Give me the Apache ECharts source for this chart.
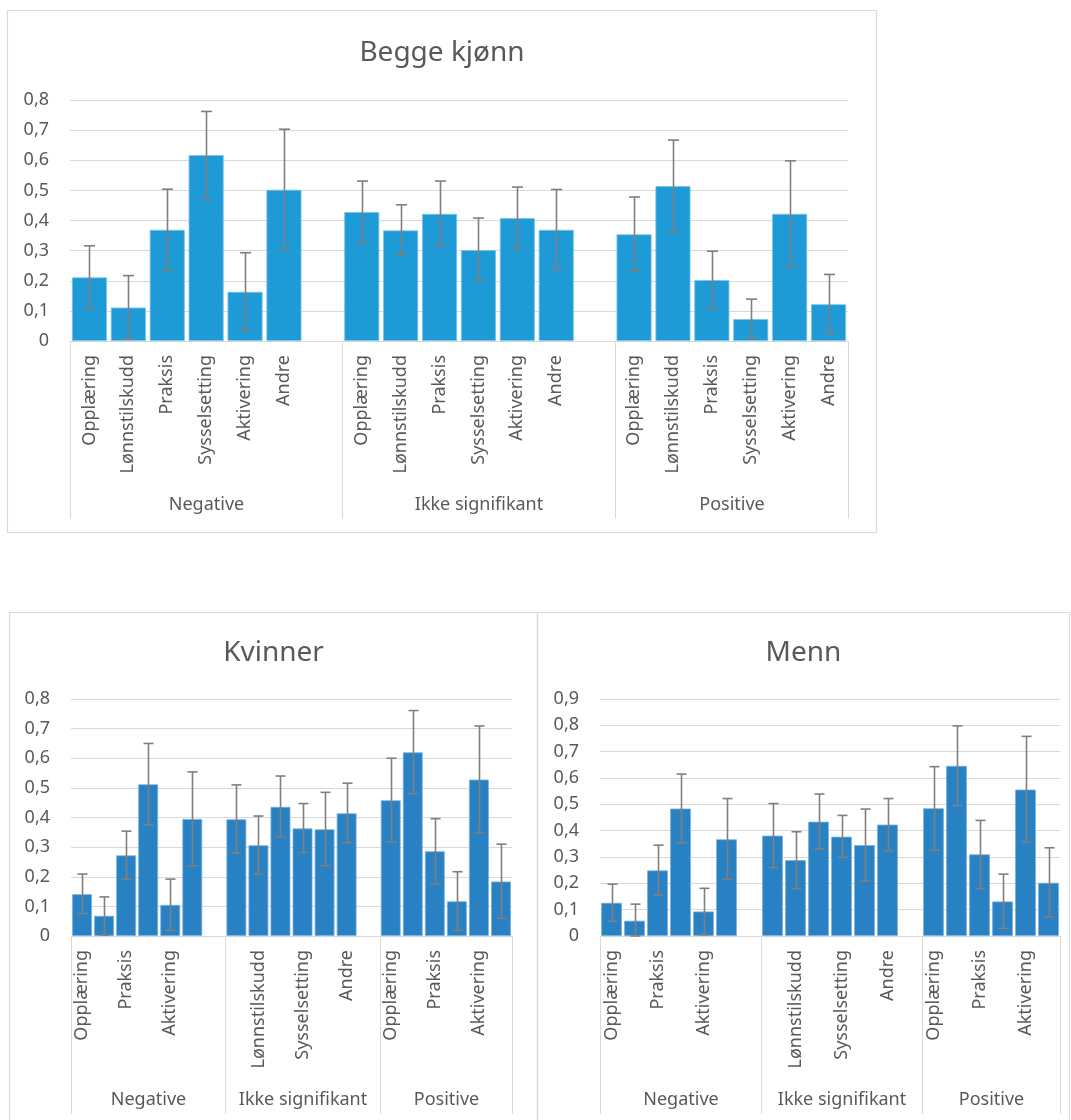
<!DOCTYPE html>
<html>
<head>
<meta charset="utf-8">
<script src="https://cdn.jsdelivr.net/npm/echarts@6/dist/echarts.min.js"></script>
<style>
  html, body { margin: 0; padding: 0; background: #fff; }
  #main { width: 1071px; height: 1120px; }
</style>
</head>
<body>
<div id="main"></div>
<script>
const programs = ['Opplæring', 'Lønnstilskudd', 'Praksis', 'Sysselsetting', 'Aktivering', 'Andre'];
const outcomeGroups = ['Negative', 'Ikke signifikant', 'Positive'];

// Begge kjønn (value, lower and upper end of the error bar), Negative / Ikke signifikant / Positive
const beggeVals = [0.211, 0.111, 0.369, 0.617, 0.163, 0.502, 0.428, 0.367, 0.422, 0.302, 0.408, 0.369, 0.354, 0.514, 0.202, 0.073, 0.422, 0.122];
const beggeLow  = [0.108, 0.008, 0.234, 0.474, 0.036, 0.303, 0.327, 0.286, 0.317, 0.199, 0.307, 0.237, 0.232, 0.364, 0.108, 0.011, 0.248, 0.024];
const beggeHigh = [0.316, 0.217, 0.504, 0.762, 0.293, 0.703, 0.531, 0.452, 0.531, 0.408, 0.511, 0.503, 0.478, 0.667, 0.298, 0.139, 0.598, 0.221];

// Kvinner
const kvinnerVals = [0.141, 0.068, 0.272, 0.512, 0.105, 0.395, 0.394, 0.306, 0.436, 0.363, 0.360, 0.414, 0.458, 0.620, 0.286, 0.117, 0.528, 0.184];
const kvinnerLow  = [0.076, 0.003, 0.192, 0.375, 0.019, 0.237, 0.280, 0.209, 0.334, 0.282, 0.237, 0.315, 0.318, 0.480, 0.175, 0.019, 0.349, 0.060];
const kvinnerHigh = [0.209, 0.132, 0.354, 0.650, 0.192, 0.554, 0.510, 0.405, 0.540, 0.447, 0.485, 0.516, 0.600, 0.761, 0.396, 0.217, 0.709, 0.310];

// Menn
const mennVals = [0.126, 0.058, 0.249, 0.484, 0.093, 0.367, 0.381, 0.288, 0.434, 0.377, 0.345, 0.423, 0.485, 0.646, 0.310, 0.131, 0.556, 0.202];
const mennLow  = [0.056, 0.000, 0.155, 0.354, 0.005, 0.216, 0.260, 0.180, 0.330, 0.299, 0.209, 0.324, 0.327, 0.495, 0.180, 0.029, 0.357, 0.072];
const mennHigh = [0.197, 0.121, 0.345, 0.615, 0.181, 0.522, 0.503, 0.396, 0.539, 0.458, 0.482, 0.522, 0.643, 0.798, 0.439, 0.235, 0.758, 0.335];

const FONT = '"Noto Sans", "Open Sans", sans-serif';
const TXT = '#595959';
const LINE = '#D9D9D9';

// 6 bars per group, one empty slot between groups
const perGroup = programs.length + 1;
const categories = [];
outcomeGroups.forEach((g, gi) => {
    programs.forEach(p => categories.push(g + '|' + p));
    if (gi < outcomeGroups.length - 1) categories.push(g + '|');
});
const slotOf = k => Math.floor(k / programs.length) * perGroup + k % programs.length;
const toSlots = vals => {
    const arr = categories.map(() => '-');
    vals.forEach((v, k) => { arr[slotOf(k)] = v; });
    return arr;
};
const groupSpans = outcomeGroups.map((g, gi) => {
    const start = gi * perGroup;
    const end = gi < outcomeGroups.length - 1 ? start + programs.length : start + programs.length - 1;
    return [start, 0, end];
});

const panels = [
    { title: 'Begge kjønn', vals: beggeVals, low: beggeLow, high: beggeHigh, max: 0.8, color: '#1E9BD7', edge: '#78C3EA',
      grid: { left: 70, top: 100, width: 778, height: 241 }, box: [7.5, 10.5, 869, 522], titleY: 53, interval: 0, cap: 11 },
    { title: 'Kvinner', vals: kvinnerVals, low: kvinnerLow, high: kvinnerHigh, max: 0.8, color: '#2781C3', edge: '#7AB0DC',
      grid: { left: 71, top: 699, width: 441, height: 237 }, box: [9.5, 612.5, 528, 540], titleY: 653, interval: 1, cap: 10 },
    { title: 'Menn', vals: mennVals, low: mennLow, high: mennHigh, max: 0.9, color: '#2781C3', edge: '#7AB0DC',
      grid: { left: 600, top: 699, width: 460, height: 237 }, box: [537.5, 612.5, 532, 540], titleY: 653, interval: 1, cap: 10 }
];

const fmt = v => (v === 0 ? '0' : String(+v.toFixed(1)).replace('.', ','));

const grids = [], xAxes = [], yAxes = [], series = [], graphics = [];

panels.forEach((p, i) => {
    grids.push(p.grid);
    xAxes.push({
        type: 'category', gridIndex: i, data: categories,
        axisTick: { show: false },
        axisLine: { lineStyle: { color: LINE, width: 1 } },
        axisLabel: {
            rotate: 90, interval: p.interval, margin: 14,
            fontFamily: FONT, fontSize: 18, color: TXT,
            formatter: v => v.split('|')[1]
        }
    });
    yAxes.push({
        type: 'value', gridIndex: i, min: 0, max: p.max, interval: 0.1,
        axisLine: { show: false }, axisTick: { show: false },
        axisLabel: { margin: 21, fontFamily: FONT, fontSize: 18, color: TXT, formatter: fmt },
        splitLine: { lineStyle: { color: LINE, width: 1 } }
    });
    series.push({
        type: 'bar', xAxisIndex: i, yAxisIndex: i,
        data: toSlots(p.vals),
        barCategoryGap: '10%',
        itemStyle: { color: p.color, borderColor: p.edge, borderWidth: 0.8 },
        silent: true
    });
    // error bars
    series.push({
        type: 'custom', xAxisIndex: i, yAxisIndex: i, silent: true,
        data: p.vals.map((v, k) => [slotOf(k), p.low[k], p.high[k]]),
        encode: { x: 0, y: [1, 2] },
        renderItem: (params, api) => {
            const lo = api.coord([api.value(0), api.value(1)]);
            const hi = api.coord([api.value(0), api.value(2)]);
            const c = Math.round(lo[0]) + 0.5;
            const h = p.cap / 2;
            const st = { stroke: '#7F7F7F', lineWidth: 1.6 };
            return {
                type: 'group',
                children: [
                    { type: 'line', shape: { x1: c, y1: lo[1], x2: c, y2: hi[1] }, style: st },
                    { type: 'line', shape: { x1: c - h, y1: lo[1], x2: c + h, y2: lo[1] }, style: st },
                    { type: 'line', shape: { x1: c - h, y1: hi[1], x2: c + h, y2: hi[1] }, style: st }
                ]
            };
        },
        z: 5
    });
    // group level of the category axis
    series.push({
        type: 'custom', xAxisIndex: i, yAxisIndex: i, silent: true, clip: false,
        data: groupSpans,
        encode: { x: 0, y: 1 },
        renderItem: (params, api) => {
            const bw = api.size([1, 0])[0];
            const a = api.coord([api.value(0), 0]);
            const b = api.coord([api.value(2), 0]);
            const x0 = Math.round(a[0] - bw / 2) + 0.5;
            const x1 = Math.round(b[0] + bw / 2) + 0.5;
            const y0 = a[1];
            const st = { stroke: LINE, lineWidth: 1 };
            const children = [
                { type: 'line', shape: { x1: x0, y1: y0, x2: x0, y2: y0 + 178 }, style: st },
                { type: 'text', x: (x0 + x1) / 2, y: y0 + 164,
                  style: { text: outcomeGroups[params.dataIndex], fill: TXT, fontFamily: FONT, fontSize: 18,
                           align: 'center', verticalAlign: 'middle' } }
            ];
            if (params.dataIndex === outcomeGroups.length - 1) {
                children.push({ type: 'line', shape: { x1: x1, y1: y0, x2: x1, y2: y0 + 178 }, style: st });
            }
            return { type: 'group', children: children };
        }
    });
    graphics.push({
        type: 'rect', silent: true, z: -10,
        shape: { x: p.box[0], y: p.box[1], width: p.box[2], height: p.box[3] },
        style: { fill: 'none', stroke: LINE, lineWidth: 1.2 }
    });
    graphics.push({
        type: 'text', silent: true,
        x: p.box[0] + p.box[2] / 2, y: p.titleY,
        style: { text: p.title, fill: TXT, fontFamily: FONT, fontSize: 28, align: 'center', verticalAlign: 'middle' }
    });
});

const chart = echarts.init(document.getElementById('main'), null, { renderer: 'canvas' });
chart.setOption({
    animation: false,
    backgroundColor: '#fff',
    grid: grids,
    xAxis: xAxes,
    yAxis: yAxes,
    series: series,
    graphic: graphics
});
</script>
</body>
</html>
